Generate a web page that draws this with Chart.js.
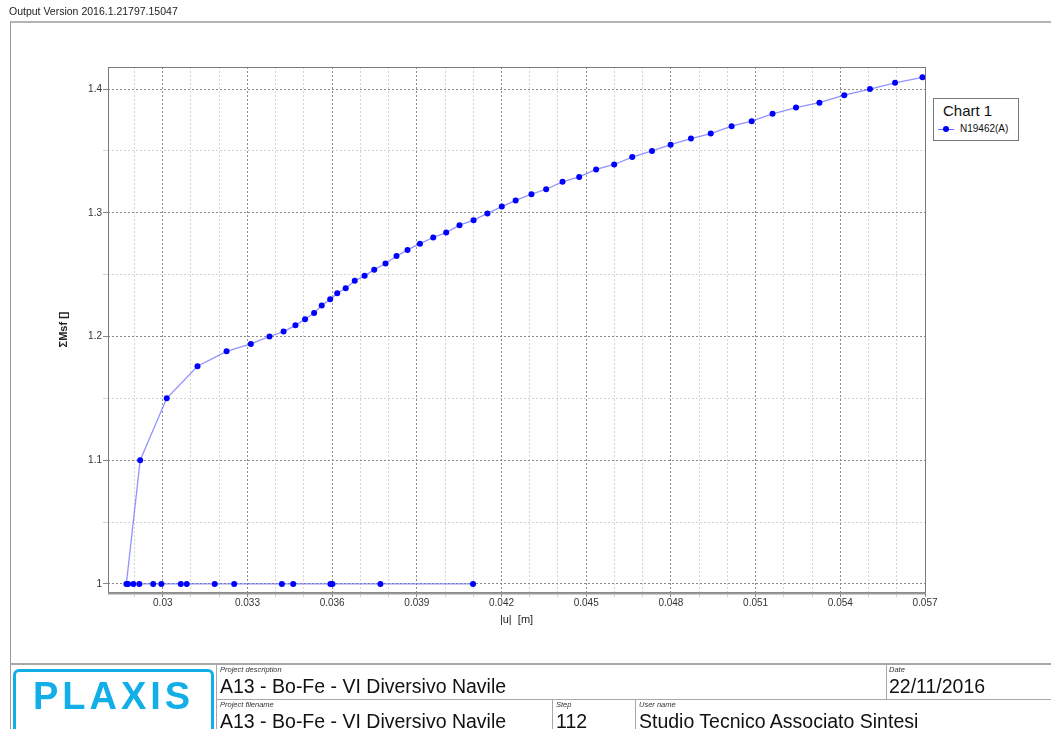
<!DOCTYPE html>
<html>
<head>
<meta charset="utf-8">
<script src="https://cdn.jsdelivr.net/npm/chart.js@4/dist/chart.umd.min.js"></script>
<style>
  html, body { margin: 0; padding: 0; background: #fff; }
  body { width: 1051px; height: 729px; position: relative; overflow: hidden; font-family: "Liberation Sans", Arial, sans-serif; color: #111; }
  #wrap { position: absolute; left: 0; top: 0; width: 1051px; height: 729px; }
  .abs { position: absolute; white-space: nowrap; }
  #version { left: 9px; top: 5px; font-size: 10.5px; color: #222; }
  #frame { left: 10px; top: 21px; width: 1100px; height: 800px; border-left: 1px solid #9a9a9a; border-top: 2px solid #b4b4b4; }
  .hl { position: absolute; height: 0; border-top: 2px solid #a8a8a8; }
  .vl { position: absolute; width: 0; border-left: 1.5px solid #a8a8a8; }
  #logo { left: 13px; top: 669px; width: 195px; height: 70px; border: 3px solid #12aee8; border-radius: 6px; }
  #logotext { left: 13px; top: 675px; width: 201px; text-align: center; font-size: 38px; font-weight: bold; color: #12aee8; letter-spacing: 4px; font-family: "Liberation Sans", Arial, sans-serif; }
  .cap { font-size: 7.5px; font-style: italic; color: #333; }
  .val { font-size: 19.5px; color: #111; }
  #legend { left: 933px; top: 98px; width: 84px; height: 41px; border: 1px solid #777; background: #fff; }
  #legend .ttl { position: absolute; left: 9px; top: 3px; font-size: 15px; color: #111; }
  #legend .ent { position: absolute; left: 26px; top: 24px; font-size: 10px; color: #111; }
  #legend .ln { position: absolute; left: 4px; top: 30px; width: 16px; height: 0; border-top: 1px solid #6666ff; }
  #legend .dt { position: absolute; left: 9px; top: 27px; width: 6px; height: 6px; border-radius: 50%; background: #0000ff; }
</style>
</head>
<body>
<div id="wrap"><canvas id="c" width="1051" height="729"></canvas></div>

<div class="abs" id="version">Output Version 2016.1.21797.15047</div>
<div class="abs" id="frame"></div>

<div class="abs" id="legend">
  <div class="ttl" id="legendTitle"></div>
  <div class="ln"></div><div class="dt"></div>
  <div class="ent" id="legendEntry"></div>
</div>

<!-- title block -->
<div class="hl" style="left:10px; top:663px; width:1050px;"></div>
<div class="vl" style="left:216px; top:664px; height:70px;"></div>
<div class="hl" style="left:217px; top:699px; width:840px; border-top-width:1.5px;"></div>
<div class="vl" style="left:886px; top:664px; height:36px;"></div>
<div class="vl" style="left:552px; top:700px; height:34px;"></div>
<div class="vl" style="left:635px; top:700px; height:34px;"></div>

<div class="abs" id="logo"></div>
<div class="abs" id="logotext">PLAXIS</div>

<div class="abs cap" style="left:220px; top:665px;">Project description</div>
<div class="abs val" style="left:220px; top:675px;">A13 - Bo-Fe - VI Diversivo Navile</div>
<div class="abs cap" style="left:889px; top:665px;">Date</div>
<div class="abs val" style="left:889px; top:675px;">22/11/2016</div>

<div class="abs cap" style="left:220px; top:700px;">Project filename</div>
<div class="abs val" style="left:220px; top:710px;">A13 - Bo-Fe - VI Diversivo Navile</div>
<div class="abs cap" style="left:556px; top:700px;">Step</div>
<div class="abs val" style="left:556px; top:710px;">112</div>
<div class="abs cap" style="left:639px; top:700px;">User name</div>
<div class="abs val" style="left:639px; top:710px;">Studio Tecnico Associato Sintesi</div>

<script>
// Node N19462(A): total displacement |u| against ΣMsf

const SERIES_LABEL = 'N19462(A)';
const LEGEND_TITLE = 'Chart 1';

// Steps that stay at ΣMsf = 1
const baseU = [0.04099, 0.03771, 0.03601, 0.03594, 0.03462, 0.03422, 0.03253, 0.03184,
               0.03085, 0.03064, 0.02995, 0.02966, 0.02917, 0.02896, 0.02877, 0.02871];
const baseMsf = [1, 1, 1, 1, 1, 1, 1, 1, 1, 1, 1, 1, 1, 1, 1, 1];

// Safety analysis steps
const curveU = [0.02920, 0.03014, 0.03123, 0.03226, 0.03312, 0.03378, 0.03428, 0.03470,
                0.03504, 0.03536, 0.03563, 0.03593, 0.03618, 0.03648, 0.03680, 0.03715,
                0.03749, 0.03789, 0.03828, 0.03867, 0.03911, 0.03958, 0.04004, 0.04051,
                0.04101, 0.04150, 0.04201, 0.04250, 0.04306, 0.04358, 0.04416, 0.04475,
                0.04535, 0.04599, 0.04663, 0.04733, 0.04799, 0.04871, 0.04941, 0.05015,
                0.05086, 0.05160, 0.05243, 0.05326, 0.05414, 0.05505, 0.05594, 0.05691];
const curveMsf = [1.100, 1.150, 1.176, 1.188, 1.194, 1.200, 1.204, 1.209,
                  1.214, 1.219, 1.225, 1.230, 1.235, 1.239, 1.245, 1.249,
                  1.254, 1.259, 1.265, 1.270, 1.275, 1.280, 1.284, 1.290,
                  1.294, 1.2995, 1.305, 1.310, 1.315, 1.319, 1.325, 1.329,
                  1.335, 1.339, 1.345, 1.350, 1.355, 1.360, 1.364, 1.370,
                  1.374, 1.380, 1.385, 1.389, 1.395, 1.400, 1.405, 1.4095];

// Axis ticks: every entry gets a grid line, the listed labels get text
const xTickValues = [0.029, 0.030, 0.031, 0.032, 0.033, 0.034, 0.035, 0.036, 0.037, 0.038,
                     0.039, 0.040, 0.041, 0.042, 0.043, 0.044, 0.045, 0.046, 0.047, 0.048,
                     0.049, 0.050, 0.051, 0.052, 0.053, 0.054, 0.055, 0.056, 0.057];
const xTickLabels = ['0.03', '0.033', '0.036', '0.039', '0.042', '0.045', '0.048', '0.051', '0.054', '0.057'];
const yTickValues = [1.0, 1.05, 1.1, 1.15, 1.2, 1.25, 1.3, 1.35, 1.4];
const yTickLabels = ['1', '1.1', '1.2', '1.3', '1.4'];

const X_TITLE = '|u|  [m]';
const Y_TITLE = 'ΣMsf []';

const points = baseU.map((u, i) => ({ x: u, y: baseMsf[i] }))
  .concat(curveU.map((u, i) => ({ x: u, y: curveMsf[i] })));

function labelFor(value, labels) {
  const hit = labels.find(l => Math.abs(parseFloat(l) - value) < 1e-9);
  return hit === undefined ? '' : hit;
}
function isMajor(value, labels) {
  return labels.some(l => Math.abs(parseFloat(l) - value) < 1e-9);
}

document.getElementById('legendTitle').textContent = LEGEND_TITLE;
document.getElementById('legendEntry').textContent = SERIES_LABEL;

const plotFrame = {
  id: 'plotFrame',
  afterDraw(chart) {
    const { ctx, chartArea: a } = chart;
    ctx.save();
    ctx.strokeStyle = '#7a7a7a';
    ctx.lineWidth = 1;
    ctx.strokeRect(Math.round(a.left) + 0.5, Math.round(a.top) + 0.5,
                   Math.round(a.right - a.left), Math.round(a.bottom - a.top));
    ctx.strokeStyle = '#9a9a9a';
    ctx.lineWidth = 2;
    ctx.beginPath();
    ctx.moveTo(a.left, Math.round(a.bottom) + 1.5);
    ctx.lineTo(a.right, Math.round(a.bottom) + 1.5);
    ctx.stroke();
    ctx.restore();
  }
};

const gridColor = (labels) => (ctx) =>
  (ctx.tick && isMajor(ctx.tick.value, labels)) ? '#8a8a8a' : '#d4d4d4';

new Chart(document.getElementById('c'), {
  type: 'scatter',
  data: {
    datasets: [{
      label: SERIES_LABEL,
      data: points,
      showLine: true,
      borderColor: 'rgba(110, 110, 255, 0.75)',
      borderWidth: 1.3,
      pointBackgroundColor: '#0000ff',
      pointBorderColor: '#0000ff',
      pointRadius: 3,
      pointBorderWidth: 0,
      tension: 0
    }]
  },
  options: {
    responsive: false,
    animation: false,
    layout: { padding: { left: 53, right: 126, top: 67, bottom: 98 } },
    plugins: { legend: { display: false }, tooltip: { enabled: false } },
    scales: {
      x: {
        type: 'linear',
        min: 0.02806,
        max: 0.057,
        afterBuildTicks(axis) { axis.ticks = xTickValues.map(v => ({ value: v })); },
        afterFit(axis) { axis.height = 39; },
        ticks: {
          autoSkip: false, maxRotation: 0, padding: 0,
          color: '#333', font: { family: 'Liberation Sans', size: 10 },
          callback: (v) => labelFor(v, xTickLabels)
        },
        grid: { color: gridColor(xTickLabels), tickColor: gridColor(xTickLabels), lineWidth: 1, tickLength: 5 },
        border: { display: false, dash: [2, 2] },
        title: { display: true, text: X_TITLE, color: '#222', font: { family: 'Liberation Sans', size: 11 }, padding: { top: 4, bottom: 4 } }
      },
      y: {
        type: 'linear',
        min: 0.9935,
        max: 1.4178,
        afterBuildTicks(axis) { axis.ticks = yTickValues.map(v => ({ value: v })); },
        afterFit(axis) { axis.width = 55; },
        ticks: {
          autoSkip: false, padding: 1,
          color: '#333', font: { family: 'Liberation Sans', size: 10 },
          callback: (v) => labelFor(v, yTickLabels)
        },
        grid: { color: gridColor(yTickLabels), tickColor: gridColor(yTickLabels), lineWidth: 1, tickLength: 5 },
        border: { display: false, dash: [2, 2] },
        title: { display: true, text: Y_TITLE, color: '#222', font: { family: 'Liberation Sans', size: 11, weight: 'bold' }, padding: { top: 4, bottom: 4 } }
      }
    }
  },
  plugins: [plotFrame]
});
</script>
</body>
</html>
